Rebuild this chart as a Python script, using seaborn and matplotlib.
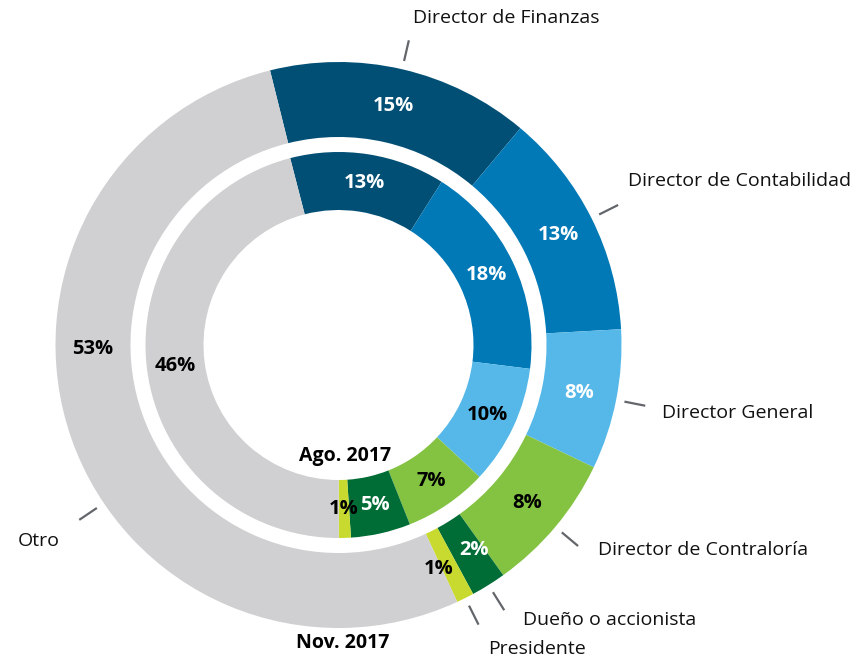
import numpy as np
import matplotlib
matplotlib.use("Agg")
import matplotlib.pyplot as plt
import seaborn as sns

# datos
cargos = ["Director de Finanzas", "Director de Contabilidad", "Director General",
          "Director de Contraloría", "Dueño o accionista", "Presidente", "Otro"]
nov_2017 = [15, 13, 8, 8, 2, 1, 53]
ago_2017 = [13, 18, 10, 7, 5, 1, 46]

colores = ["#024f75", "#0179b6", "#55b8e8", "#84c342", "#006c36", "#c8d92f", "#d0d0d2"]
texto_nov = ["white", "white", "white", "black", "white", "black", "black"]
texto_ago = ["white", "white", "black", "black", "white", "black", "black"]

sns.set_theme(style="white")
plt.rcParams['font.family'] = ['Open Sans', 'DejaVu Sans']

fig = plt.figure(figsize=(8.63, 6.62), dpi=100)
ax = fig.add_axes([0, 0, 1, 1])
R = 283.0  # px por unidad
cx, cy = 338.5, 345.0

w_out, _ = ax.pie(nov_2017, radius=1.0, startangle=104, counterclock=False, colors=colores,
                  wedgeprops=dict(width=0.265, edgecolor="none", linewidth=0))
w_in, _ = ax.pie(ago_2017, radius=0.682, startangle=104.5, counterclock=False, colors=colores,
                 wedgeprops=dict(width=0.205, edgecolor="none", linewidth=0))
ax.set_xlim(-cx / R, (863 - cx) / R)
ax.set_ylim(-(662 - cy) / R, cy / R)
ax.axis("off")


def mid(w):
    return np.deg2rad((w.theta1 + w.theta2) / 2)


# ángulos ajustados a mano para algunas etiquetas
ang_pct = {"Otro": 181, "Dueño o accionista": -56.5, "Presidente": -66}
ang_guia = {"Otro": 214}

# porcentajes
for i, w in enumerate(w_out):
    a = np.deg2rad(ang_pct[cargos[i]]) if cargos[i] in ang_pct else mid(w)
    ax.text(0.868 * np.cos(a), 0.868 * np.sin(a), f"{nov_2017[i]}%", ha="center", va="center",
            fontsize=14.5, fontweight="bold", color=texto_nov[i])
for i, w in enumerate(w_in):
    a = mid(w)
    ax.text(0.58 * np.cos(a), 0.58 * np.sin(a), f"{ago_2017[i]}%", ha="center", va="center",
            fontsize=14.5, fontweight="bold", color=texto_ago[i])

# etiquetas con líneas guía
desplaz = [(4, 22, "left"), (10, 24, "left"), (17, -7, "left"), (20, -4, "left"),
           (19, -10, "left"), (10, -24, "left"), (-19, -21, "right")]
for i, w in enumerate(w_out):
    a = np.deg2rad(ang_guia[cargos[i]]) if cargos[i] in ang_guia else mid(w)
    x0, y0 = 1.03 * np.cos(a), 1.03 * np.sin(a)
    x1, y1 = 1.105 * np.cos(a), 1.105 * np.sin(a)
    ax.plot([x0, x1], [y0, y1], color="#63666a", lw=1.6, solid_capstyle="butt")
    dx, dy, ha = desplaz[i]
    ax.annotate(cargos[i], (x1, y1), xytext=(dx, dy), textcoords="offset pixels",
                ha=ha, va="center", fontsize=14, color="#111111")

ax.text((345 - cx) / R, (cy - 456) / R, "Ago. 2017", ha="center", va="center",
        fontsize=14, fontweight="bold", color="black")
ax.text((343 - cx) / R, (cy - 643) / R, "Nov. 2017", ha="center", va="center",
        fontsize=14, fontweight="bold", color="black")

fig.savefig("out.png", dpi=100)
